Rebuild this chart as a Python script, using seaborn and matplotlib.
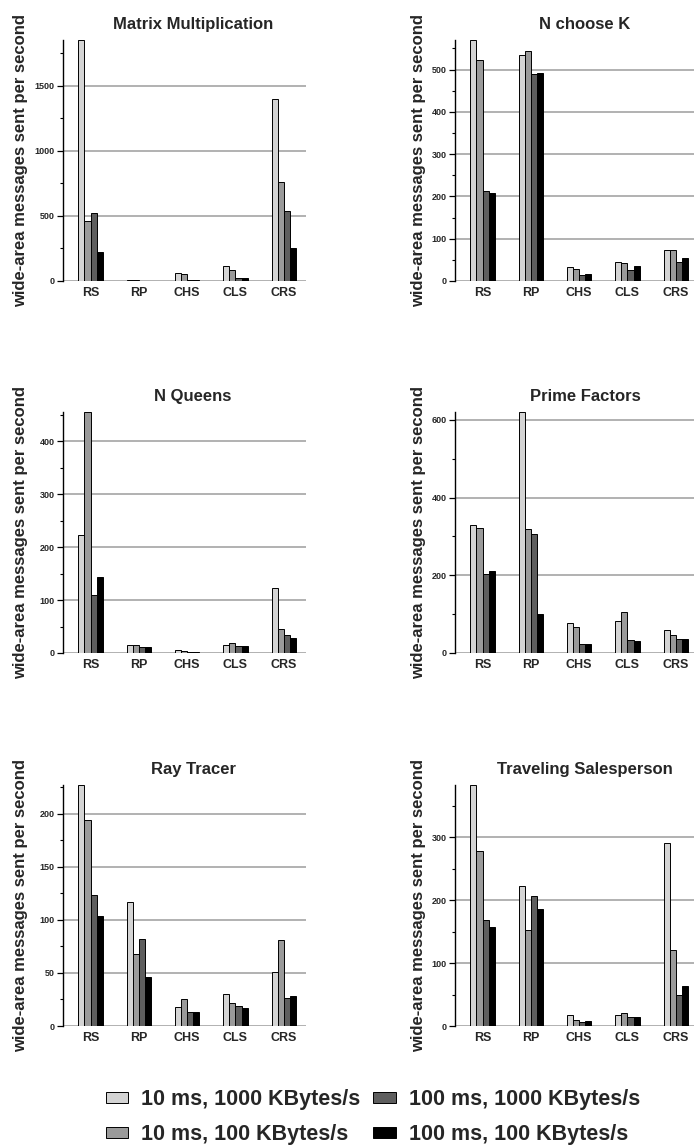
import matplotlib
matplotlib.use("Agg")
import matplotlib.pyplot as plt
from matplotlib.ticker import MultipleLocator
import seaborn as sns
import pandas as pd

# Wide-area message rates per load-balancing scheme, one list per network setting
schemes = ["RS", "RP", "CHS", "CLS", "CRS"]
settings = ["10 ms, 1000 KBytes/s", "10 ms, 100 KBytes/s",
            "100 ms, 1000 KBytes/s", "100 ms, 100 KBytes/s"]
colors = ["#d4d4d4", "#9a9a9a", "#5e5e5e", "#000000"]

matmul = [[1850, 8, 65, 115, 1400],
          [460, 4, 50, 85, 760],
          [520, 3, 10, 25, 540],
          [225, 3, 8, 22, 250]]
nchoosek = [[570, 535, 32, 46, 74],
            [522, 543, 29, 43, 74],
            [212, 490, 15, 25, 44],
            [209, 493, 17, 35, 55]]
nqueens = [[222, 16, 5, 16, 122],
           [455, 15, 3, 19, 46],
           [110, 12, 2, 13, 34],
           [144, 12, 2, 13, 29]]
primes = [[330, 620, 76, 83, 59],
          [322, 320, 67, 106, 47],
          [204, 306, 22, 33, 35],
          [212, 101, 22, 32, 35]]
raytracer = [[227, 117, 18, 30, 51],
             [194, 68, 25, 22, 81],
             [123, 82, 13, 19, 26],
             [104, 46, 13, 17, 28]]
tsp = [[383, 223, 17, 18, 291],
       [278, 152, 10, 20, 120],
       [168, 207, 7, 15, 49],
       [157, 186, 8, 15, 64]]

panels = [
    ("Matrix Multiplication", matmul, 500, 250),
    ("N choose K", nchoosek, 100, 50),
    ("N Queens", nqueens, 100, 50),
    ("Prime Factors", primes, 200, 100),
    ("Ray Tracer", raytracer, 50, 25),
    ("Traveling Salesperson", tsp, 100, 50),
]

sns.set_theme(style="white")
plt.rcParams["font.family"] = ["Liberation Sans", "DejaVu Sans"]
plt.rcParams["font.weight"] = "bold"

W, H = 694, 1147
fig = plt.figure(figsize=(W / 100, H / 100), dpi=100)

col_x = [63, 455]
row_top = [40, 412, 785]
ax_w, ax_h = 243, 241

legend_handles = None
for i, (title, values, major, minor) in enumerate(panels):
    r, c = divmod(i, 2)
    x0 = col_x[c]
    y0 = row_top[r] + ax_h
    ax = fig.add_axes([x0 / W, 1 - y0 / H, ax_w / W, ax_h / H])

    df = pd.DataFrame({
        "scheme": [s for _ in settings for s in schemes],
        "setting": [st for st in settings for _ in schemes],
        "rate": [v for row in values for v in row],
    })
    sns.barplot(data=df, x="scheme", y="rate", hue="setting",
                hue_order=settings, order=schemes, palette=colors,
                width=0.5, edgecolor="black", linewidth=0.7,
                ax=ax, legend=(i == 0), zorder=3)
    if i == 0:
        legend_handles, _ = ax.get_legend_handles_labels()
        ax.get_legend().remove()

    ymax = max(max(row) for row in values)
    ax.set_ylim(0, ymax)
    ax.set_xlim(-0.57, 4.46)
    ax.yaxis.set_major_locator(MultipleLocator(major))
    ax.yaxis.set_minor_locator(MultipleLocator(minor))
    ax.grid(axis="y", which="major", color="#9c9c9c", linewidth=1.1, zorder=0)
    ax.set_axisbelow(True)

    for side in ("top", "right", "bottom"):
        ax.spines[side].set_visible(False)
    ax.spines["left"].set_color("black")
    ax.spines["left"].set_linewidth(1.0)

    ax.tick_params(axis="y", which="major", left=True, length=4, width=0.9,
                   color="black", labelsize=6.5, pad=2)
    ax.tick_params(axis="y", which="minor", left=True, length=2.5, width=0.8,
                   color="black")
    ax.tick_params(axis="x", length=0, labelsize=9, pad=4)
    for lab in ax.get_xticklabels() + ax.get_yticklabels():
        lab.set_fontweight("bold")

    ax.set_xlabel("")
    ax.set_ylabel("wide-area messages sent per second", fontsize=12,
                  fontweight="bold")
    ax.yaxis.set_label_coords(-0.145 if c == 0 else -0.12, 0.5)
    ax.set_title(title, fontsize=12, fontweight="bold", x=0.535, pad=8)

fig.legend(legend_handles, settings, ncol=2, loc="center",
           bbox_to_anchor=(373 / W, 1 - 1117 / H), frameon=False,
           prop={"weight": "bold", "size": 15.5},
           handlelength=1.05, handleheight=0.38, handletextpad=0.6,
           columnspacing=0.6, labelspacing=0.65, borderpad=0.1)

fig.savefig("out.png", dpi=100)
